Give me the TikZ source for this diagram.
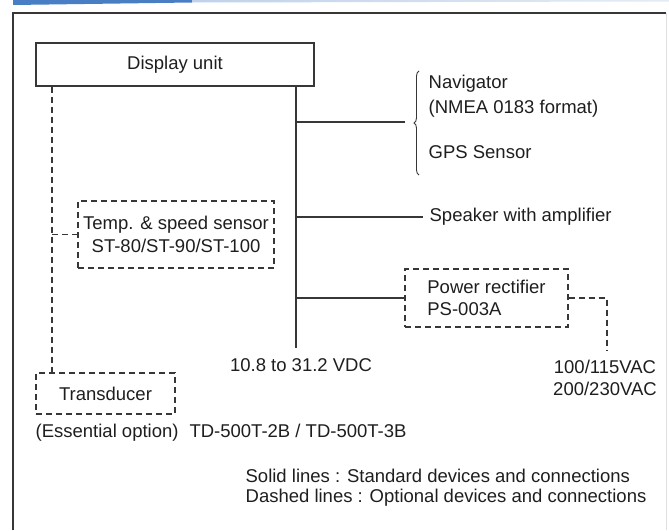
\documentclass[tikz,border=0pt]{standalone}
\usepackage{fontspec}
\setmainfont{Liberation Sans}
\usepackage{xcolor}
\usepackage{tikz}
\usetikzlibrary{positioning,calc,decorations.pathreplacing}

\definecolor{linegray}{RGB}{55,55,55}
\definecolor{textgray}{RGB}{30,30,30}
\definecolor{banner}{RGB}{74,126,196}

\begin{document}
\begin{tikzpicture}[x=1pt, y=-1pt, line width=1.3pt, color=linegray,
  every node/.style={text=textgray, font=\fontsize{18.5}{22.5}\selectfont, inner sep=0pt},
  devbox/.style={rectangle, draw=linegray},
  optbox/.style={rectangle, draw=linegray, line width=1.2pt, dash pattern=on 6pt off 4pt},
  optline/.style={line width=1.2pt, dash pattern=on 6pt off 4pt}]

\useasboundingbox (0,0) rectangle (669,530);

\fill[banner] (13,0) -- (192,0) -- (192,2.5) -- (13,5) -- cycle;
\shade[left color=banner!35, right color=banner!15] (192,0) -- (669,0) -- (669,1.5) -- (192,2.5) -- cycle;
\draw[line width=1.6pt] (13,530) -- (13,13) -- (666,13);
\draw[line width=1pt, gray!25] (666,13) -- (666,530);

\node (display) [devbox, minimum width=278pt, minimum height=43pt] at (175,64.5) {Display unit};

\node (temp) [optbox, minimum width=196pt, minimum height=67pt, align=center] at (176,234.5) {Temp. \& speed sensor\\
                                                                                           ST-80/ST-90/ST-100};

\node (xdcr) [optbox, minimum width=139pt, minimum height=41pt] at (105.5,393.5) {Transducer};

\node (rect) [optbox, minimum width=163pt, minimum height=58pt, align=left] at (486.5,298) {Power rectifier\\
                                                                                           PS-003A};

\node (nav) [anchor=west, align=left, font=\fontsize{18.5}{24.5}\selectfont] at (428,96) {Navigator\\
                                                   (NMEA 0183 format)};
\node (gps) [anchor=west] at (428,152) {GPS Sensor};
\node (spk) [anchor=west] at (429,217) {Speaker with amplifier};
\node (vdc) at (301,365) {10.8 to 31.2 VDC};
\node (vac) [align=center] at (605,378) {100/115VAC\\
                                        200/230VAC};
\node (ess) [anchor=west] at (35,433) {(Essential option)\hspace{11pt}TD-500T-2B / TD-500T-3B};

\node (legend) [anchor=west, align=left, font=\fontsize{18.5}{19.5}\selectfont] at (245,487.5) {Solid lines : Standard devices and connections\\
                                                                                             Dashed lines : Optional devices and connections};

\coordinate (bus) at (296,348);
\coordinate (navtip) at (405,122);
\coordinate (xbus) at (52,0);
\coordinate (acend) at (607,350);

\draw[line width=1.5pt] (display.south -| bus) -- (bus);
\draw (navtip -| bus) -- (navtip);
\draw[decorate, decoration={brace, amplitude=5pt}, line width=0.9pt] (419,175) -- (419,71);
\draw (spk.west -| bus) -- ([xshift=-6pt]spk.west);
\draw (rect.west -| bus) -- (rect.west);
\draw[optline] (rect.east) -| (acend);

\draw[optline] (display.south -| xbus) -- (xdcr.north -| xbus);
\draw[optline] (temp.west -| xbus) -- (temp.west);

\end{tikzpicture}
\end{document}
